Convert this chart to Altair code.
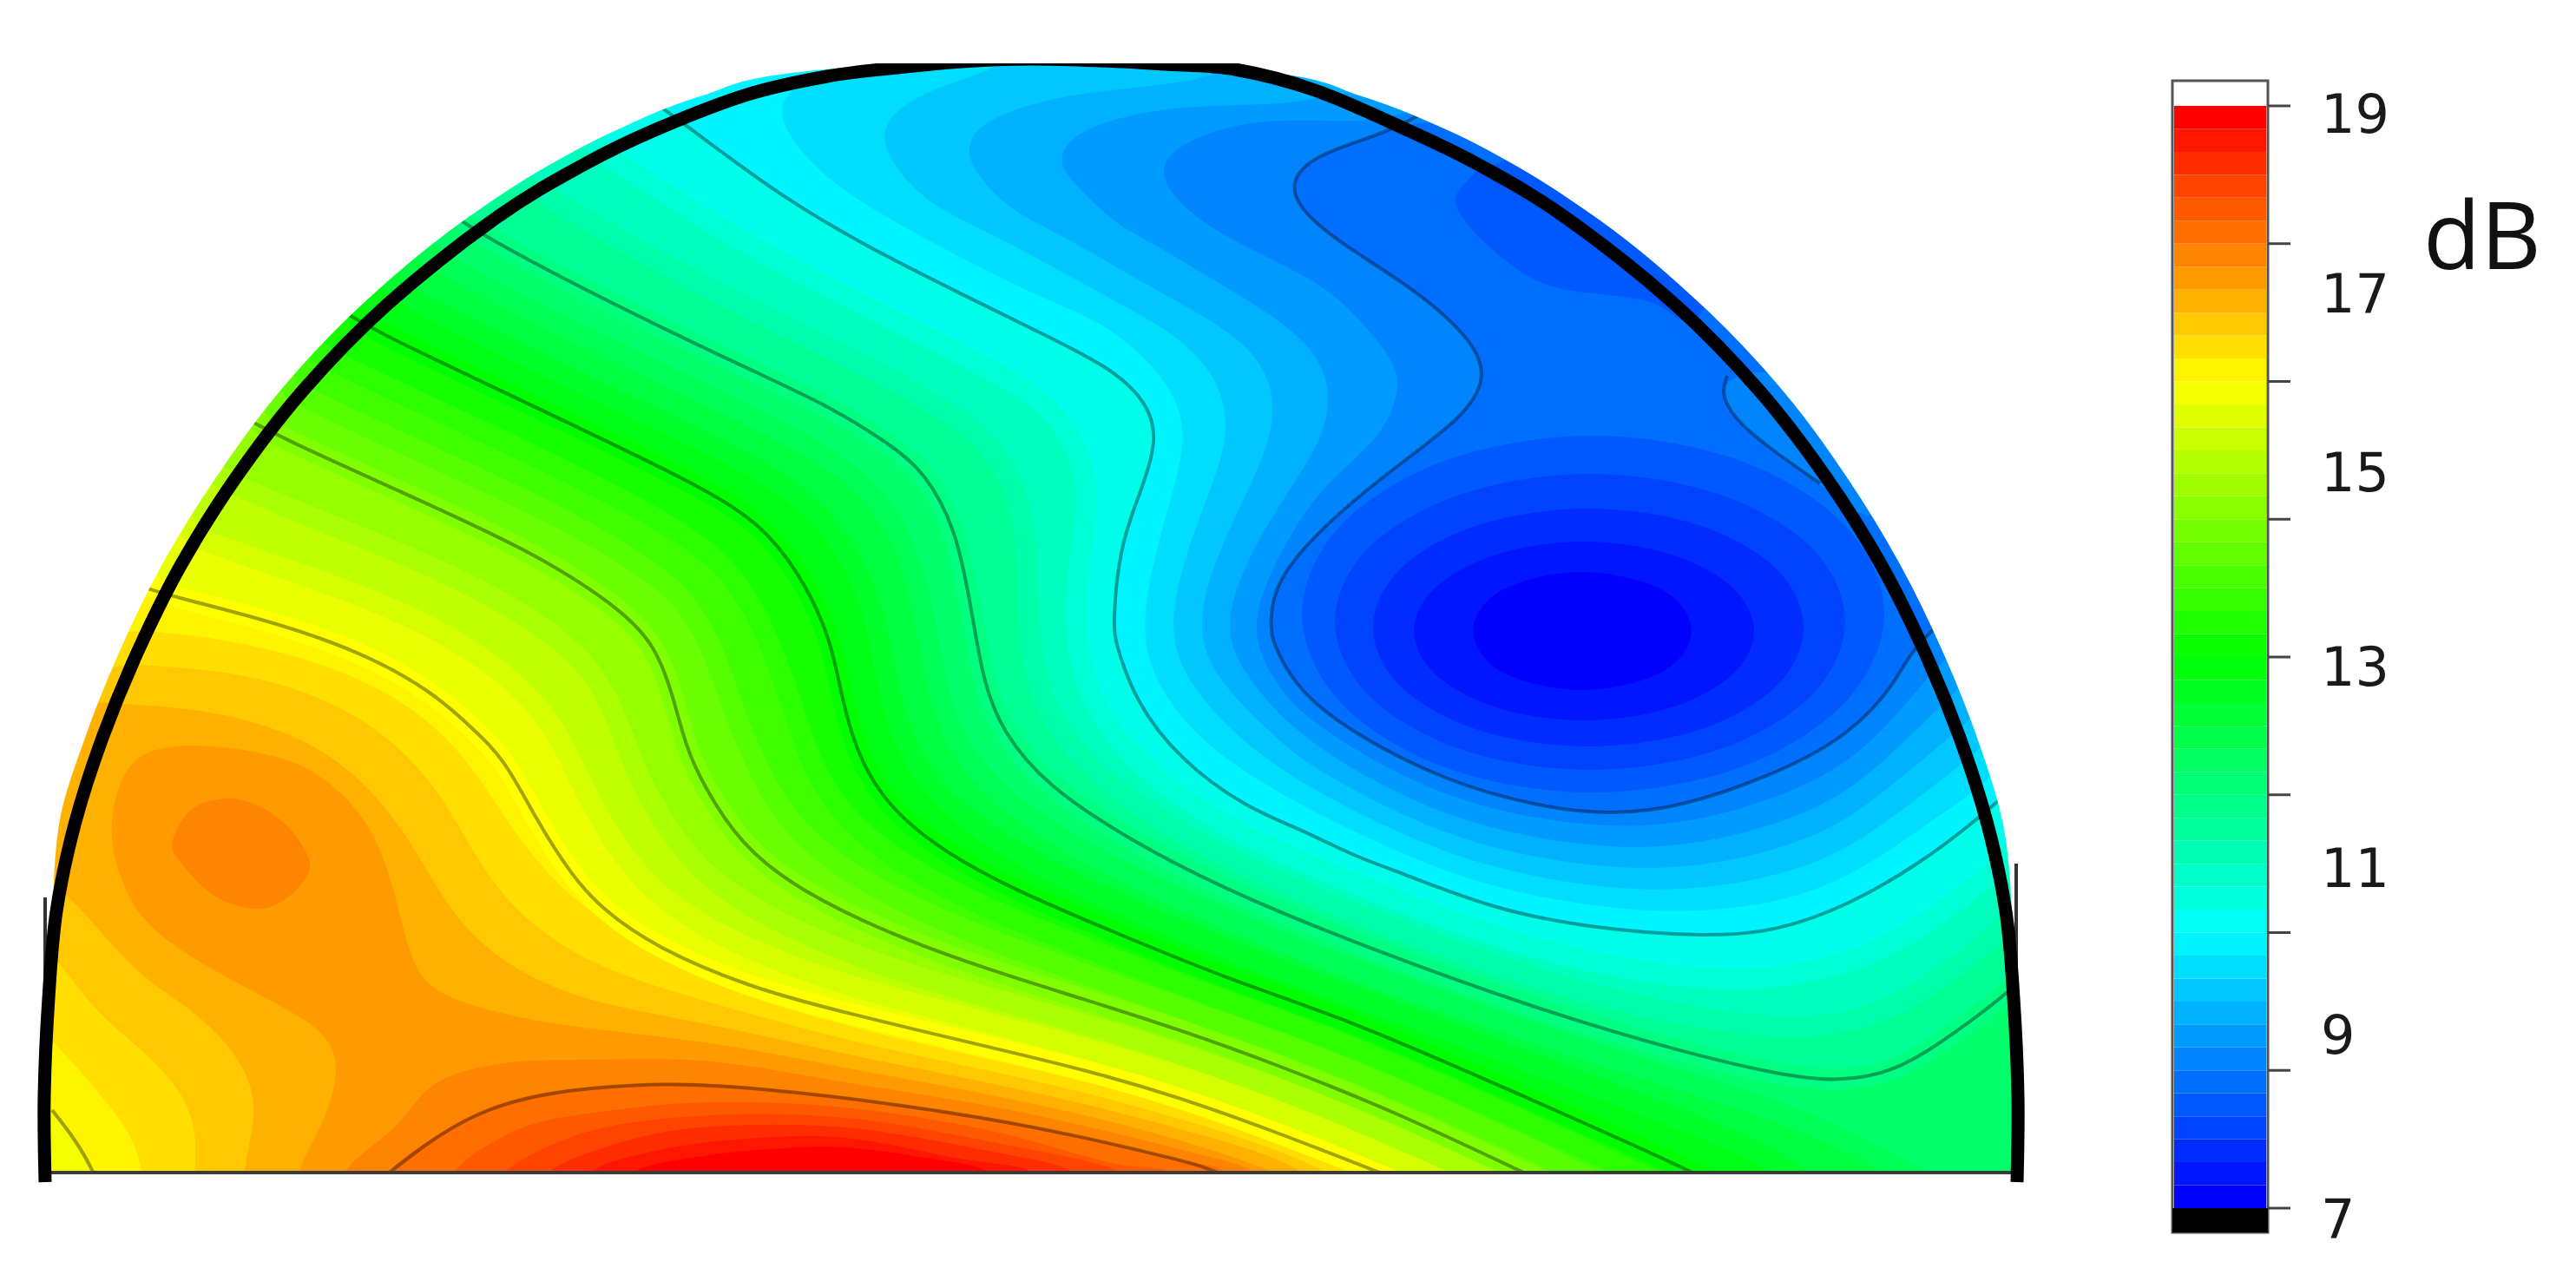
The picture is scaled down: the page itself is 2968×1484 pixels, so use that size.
import altair as alt
import pandas as pd

# ---- contour vertices (reference pixels) ----
L16 = [(150,672),(201,688),(303,713),(415,750),(500,798),(545,840),(581,874),(617,943),(658,1008),(693,1047),(754,1091),(864,1138),(974,1167),(1138,1206),(1248,1232),(1358,1264),(1467,1303),(1590,1351),(1700,1395)]
L155 = [(200,605),(242,627),(354,663),(480,711),(570,765),(615,808),(646,849),(675,915),(709,973),(746,1022),(809,1069),(919,1118),(1029,1150),(1175,1188),(1285,1217),(1394,1251),(1515,1296),(1645,1351),(1750,1395)]
L15 = [(235,540),(282,565),(405,614),(544,672),(641,731),(685,775),(710,825),(732,888),(759,939),(800,998),(864,1047),(974,1098),(1083,1134),(1211,1169),(1321,1201),(1431,1238),(1562,1289),(1700,1351),(1800,1395)]
L145 = [(270,475),(323,504),(456,564),(609,633),(711,698),(755,743),(775,800),(790,860),(810,904),(853,973),(919,1025),(1029,1078),(1138,1117),(1248,1151),(1358,1186),(1467,1225),(1610,1282),(1755,1351),(1850,1395)]
L14 = [(310,435),(360,463),(490,523),(643,593),(745,653),(795,696),(824,754),(843,813),(861,858),(895,931),(950,989),(1044,1043),(1147,1086),(1266,1128),(1376,1167),(1498,1209),(1646,1270),(1822,1351),(1900,1395)]
L135 = [(345,395),(396,423),(524,482),(677,554),(779,609),(836,650),(873,708),(897,767),(912,811),(937,890),(981,953),(1058,1008),(1157,1056),(1285,1105),(1394,1147),(1528,1193),(1683,1259),(1888,1351),(1970,1395)]
L13 = [(380,350),(433,382),(558,441),(711,514),(813,564),(876,603),(922,662),(950,720),(963,765),(979,848),(1012,917),(1073,973),(1166,1025),(1303,1082),(1412,1127),(1559,1177),(1719,1247),(1955,1351),(2035,1395)]
L125 = [(420,310),(476,347),(609,412),(762,485),(862,533),(927,574),(970,623),(1000,682),(1015,743),(1030,828),(1060,892),(1117,950),(1212,1006),(1339,1063),(1461,1113),(1631,1173),(1792,1235),(2010,1316),(2065,1351),(2130,1395)]
L12 = [(470,280),(520,311),(660,382),(813,455),(911,501),(979,544),(1017,583),(1051,645),(1067,722),(1082,807),(1107,868),(1160,927),(1257,988),(1376,1044),(1510,1100),(1702,1168),(1865,1224),(2064,1282),(2180,1340),(2270,1395)]
L115 = [(510,240),(563,276),(711,353),(864,426),(960,470),(1030,515),(1065,544),(1101,607),(1119,700),(1133,787),(1155,843),(1204,904),(1303,969),(1412,1025),(1559,1086),(1774,1164),(1938,1212),(2048,1238),(2119,1247),(2185,1234),(2240,1199),(2311,1147),(2370,1090)]
L11 = [(590,200),(641,234),(775,311),(911,380),(1009,426),(1089,473),(1138,505),(1178,575),(1184,655),(1185,734),(1197,802),(1239,872),(1321,937),(1419,993),(1559,1053),(1756,1125),(1902,1164),(2068,1191),(2167,1170),(2231,1131),(2299,1080),(2357,1027)]
L105 = [(650,150),(720,192),(838,270),(957,333),(1057,382),(1149,430),(1211,465),(1256,542),(1250,610),(1238,681),(1240,761),(1273,840),(1340,906),(1427,962),(1559,1019),(1737,1086),(1865,1117),(2017,1136),(2148,1107),(2221,1063),(2287,1014),(2343,963)]
L10 = [(750,115),(798,150),(902,228),(1004,287),(1106,338),(1208,388),(1284,426),(1325,468),(1333,510),(1315,565),(1290,628),(1282,720),(1286,743),(1308,808),(1358,874),(1434,930),(1500,956),(1559,986),(1610,1004),(1719,1047),(1829,1069),(1966,1080),(2048,1073),(2130,1043),(2212,995),(2275,947),(2340,890)]
L975 = [(1010,50),(930,90),(892,119),(912,165),(963,216),(1055,270),(1190,340),(1270,370),(1330,420),(1376,490),(1340,600),(1312,720),(1330,787),(1385,860),(1500,930),(1610,982),(1719,1025),(1900,1056),(2048,1043),(2130,1010),(2185,975),(2270,915),(2330,870)]
L95 = [(1190,40),(1157,79),(1060,105),(1012,144),(1024,186),(1070,237),(1146,270),(1280,345),(1385,400),(1427,490),(1378,600),(1342,720),(1368,787),(1425,850),(1500,904),(1610,960),(1719,1003),(1900,1033),(2048,1012),(2130,978),(2185,938),(2262,880),(2320,830)]
L925 = [(1420,70),(1386,96),(1233,106),(1147,132),(1111,161),(1121,199),(1167,245),(1223,270),(1340,340),(1455,400),(1478,490),(1418,600),(1372,720),(1405,787),(1460,840),(1500,878),(1610,938),(1719,981),(1900,1009),(2048,982),(2130,945),(2185,900),(2253,845),(2310,790)]
L90 = [(1560,90),(1514,123),(1361,119),(1249,144),(1218,178),(1228,203),(1285,258),(1310,270),(1420,335),(1525,400),(1541,490),(1458,600),(1402,720),(1440,787),(1500,852),(1610,916),(1719,959),(1900,986),(2048,952),(2130,913),(2185,863),(2240,810),(2300,750)]
L875 = [(1640,110),(1600,146),(1453,132),(1356,165),(1335,195),(1351,228),(1402,270),(1514,321),(1555,355),(1610,418),(1612,452),(1593,502),(1533,552),(1494,600),(1432,720),(1470,787),(1500,826),(1610,894),(1719,937),(1900,962),(2048,921),(2130,880),(2185,825),(2225,775),(2290,710)]
L85 = [(1640,130),(1593,155),(1514,178),(1483,212),(1504,249),(1555,287),(1637,338),(1697,393),(1714,435),(1686,481),(1610,536),(1527,603),(1468,670),(1463,720),(1467,743),(1495,795),(1555,843),(1664,900),(1774,930),(1856,939),(1938,930),(2048,891),(2130,848),(2185,787),(2204,743),(2270,690)]
ISLAND = [(1990,433),(1982,456),(2004,489),(2048,523),(2097,557),(2170,620),(2180,520),(2060,420)]
PATCH825 = [(1720,190),(1692,207),(1678,237),(1719,287),(1785,329),(1895,346),(1950,370),(1960,300),(1800,180)]
OVAL825 = [(1835,502),(2003,530),(2125,605),(2171,707),(2125,810),(2003,885),(1835,913),(1667,885),(1545,810),(1500,707),(1545,605),(1667,530)]
OVAL80 = [(1832,546),(1979,569),(2087,631),(2126,716),(2087,801),(1979,864),(1832,887),(1685,864),(1577,801),(1538,716),(1577,631),(1685,569)]
OVAL775 = [(1830,586),(1954,604),(2045,654),(2078,723),(2045,792),(1954,842),(1830,860),(1706,842),(1615,792),(1582,723),(1615,654),(1706,604)]
OVAL75 = [(1825,624),(1923,638),(1995,676),(2021,727),(1995,778),(1923,816),(1825,830),(1727,816),(1655,778),(1629,727),(1655,676),(1727,638)]
OVAL725 = [(1823,659),(1885,668),(1930,690),(1949,727),(1930,764),(1885,786),(1823,795),(1761,786),(1716,764),(1697,727),(1716,690),(1761,668)]
CORNER = [(60,1279),(86,1312),(109,1351),(125,1395),(20,1395),(20,1250)]

# regions at or above a level (orange and red side)
G1625 = [(100,722),(188,728),(275,739),(377,765),(469,808),(535,869),(576,934),(622,999),(683,1056),(760,1099),(820,1136),(974,1183),(1138,1220),(1248,1245),(1358,1276),(1467,1312),(1560,1351),(1650,1395),(165,1395),(165,1351),(153,1308),(112,1256),(61,1199),(20,1160),(50,860)]
G165 = [(110,762),(173,767),(275,774),(377,804),(454,852),(510,917),(545,982),(586,1043),(657,1099),(734,1130),(820,1156),(974,1199),(1138,1233),(1248,1258),(1358,1288),(1467,1322),(1530,1351),(1620,1395),(224,1395),(224,1351),(227,1308),(214,1264),(173,1216),(112,1169),(71,1112),(25,1060),(50,860)]
G1675 = [(85,805),(130,811),(224,815),(326,839),(402,882),(464,952),(504,1026),(545,1082),(606,1125),(683,1156),(820,1180),(974,1215),(1138,1247),(1248,1271),(1358,1300),(1467,1331),(1500,1351),(1590,1395),(280,1395),(280,1351),(290,1308),(295,1264),(275,1216),(224,1164),(173,1134),(122,1082),(91,1043),(40,1000),(45,860)]
G170 = [(122,956),(142,882),(178,860),(239,857),(326,871),(377,895),(438,960),(464,1069),(479,1121),(510,1151),(632,1182),(820,1199),(974,1231),(1138,1260),(1248,1284),(1358,1312),(1475,1351),(1565,1395),(330,1395),(341,1351),(377,1286),(392,1230),(377,1190),(326,1160),(250,1121),(173,1073),(142,1026)]
G1725A = [(199,969),(224,930),(275,921),(326,947),(357,995),(336,1030),(300,1047),(250,1034),(209,995)]
G1725B = [(397,1351),(454,1299),(504,1247),(581,1225),(683,1221),(820,1223),(974,1247),(1138,1274),(1248,1297),(1358,1324),(1445,1351),(1445,1395),(397,1395)]
G175 = [(448,1351),(504,1308),(561,1277),(632,1258),(734,1249),(820,1249),(974,1264),(1138,1288),(1248,1310),(1358,1336),(1412,1351),(1412,1395),(448,1395)]
G1775 = [(522,1351),(600,1300),(700,1280),(820,1270),(974,1276),(1138,1302),(1280,1340),(1347,1351),(1347,1395),(522,1395)]
G180 = [(581,1351),(680,1303),(820,1285),(974,1288),(1138,1315),(1292,1351),(1292,1395),(581,1395)]
G1825 = [(632,1351),(720,1315),(820,1298),(974,1299),(1138,1326),(1237,1351),(1237,1395),(632,1395)]
G185 = [(680,1351),(760,1325),(860,1312),(974,1311),(1100,1334),(1190,1351),(1190,1395),(680,1395)]
G1875 = [(730,1351),(810,1332),(900,1323),(974,1322),(1060,1333),(1140,1351),(1140,1395),(730,1395)]
ARCH175_LINE = [(395,1395),(448,1351),(504,1308),(561,1277),(632,1258),(734,1249),(820,1249),(974,1264),(1138,1288),(1248,1310),(1358,1336),(1412,1351),(1470,1395)]

# points well outside the half disk, bottom right round to the left
RING = [(2360,1390),(2360,1100),(2330,860),(2270,680),(2180,500),(2050,340),(1880,180),(1580,60),(1190,40),(800,60),(500,180),(330,340),(200,500)]

# outline of the half disk: stroke centre and outer edge of the coloured rim
ARC_LEFT = [(52,1362),(51,1262),(56,1150),(65,1050),(86,950),(118,850),(159,750),(209,650),(272,550),(349,450),(447,350),(573,250),(672,190),(754,150),(861,109),(953,88),(1034,78),(1108,71),(1188,68)]
ARC_RIGHT = [(1268,70),(1342,74),(1423,80),(1515,104),(1622,150),(1704,190),(1803,250),(1929,350),(2027,450),(2104,550),(2167,650),(2217,750),(2258,850),(2290,950),(2311,1050),(2320,1150),(2325,1262),(2324,1362)]
RIM_Y  = [1362,1351,1262,1150,1050,950,850,750,650,550,450,350,250,190,150,110,85,73]
RIM_XL = [52,52,51,55,60,68,98,138,187,249,323,418,540,633,710,810,905,1030]
RIM_XR = [2324,2324,2325,2321,2318,2308,2278,2238,2189,2128,2054,1959,1838,1745,1668,1566,1475,1340]

# colour bar
BAR_VALUES = [7.125 + 0.25*i for i in range(48)]
TICK_VALUES = [19, 17.5, 16, 14.5, 13, 11.5, 10, 8.5, 7]
LABELS = ["19", "17", "15", "13", "11", "9", "7"]
LABEL_Y = [134, 341, 547, 771, 1003, 1195, 1407]

COLOR_STOPS = [7.125, 10, 13, 16, 18.875]
COLOR_RANGE = ["#0000ff", "#00ffff", "#00ff00", "#ffff00", "#ff0000"]

xs = alt.Scale(domain=[8, 2960], range=[0, 2952], nice=False, zero=False)
ys = alt.Scale(domain=[8, 1476], range=[0, 1468], nice=False, zero=False)
db = alt.Scale(domain=[7, 19], range=[1384, 114], nice=False, zero=False)
fs = alt.Scale(domain=COLOR_STOPS, range=COLOR_RANGE, interpolate="rgb")
X = alt.X("x:Q", scale=xs, axis=None)
Y = alt.Y("y:Q", scale=ys, axis=None)
X2 = alt.X2("x2:Q")
Y2 = alt.Y2("y2:Q")
F = alt.Fill("v:Q", scale=fs, legend=None)
S = alt.Stroke("s:Q", scale=fs, legend=None)


def region(pts, v, interp="basis-closed"):
    df = pd.DataFrame(pts, columns=["x", "y"])
    df["i"] = range(len(df))
    df["v"] = v
    return alt.Chart(df).mark_line(interpolate=interp, strokeWidth=0, clip=True).encode(
        x=X, y=Y, order=alt.Order("i:Q"), fill=F)


def soft_region(pts, v, edge):
    """A half-dB region whose edge carries the quarter-dB colour between it and the next."""
    df = pd.DataFrame(pts, columns=["x", "y"])
    df["i"] = range(len(df))
    df["v"] = v
    df["s"] = edge
    return alt.Chart(df).mark_line(interpolate="basis-closed", strokeWidth=24, strokeJoin="round", clip=True).encode(
        x=X, y=Y, order=alt.Order("i:Q"), fill=F, stroke=S)


def contour(pts):
    df = pd.DataFrame(pts, columns=["x", "y"])
    df["i"] = range(len(df))
    return alt.Chart(df).mark_line(interpolate="basis", color="#000000", opacity=0.36,
                                   strokeWidth=4).encode(x=X, y=Y, order=alt.Order("i:Q"))


def box(x, x2, y, y2, **kw):
    df = pd.DataFrame({"x": [x], "x2": [x2], "y": [y], "y2": [y2]})
    return alt.Chart(df).mark_rect(**kw).encode(x=X, x2=X2, y=Y, y2=Y2)


layers = []
# base colour
df = pd.DataFrame({"x": [20], "x2": [2400], "y": [40], "y2": [1400], "v": [16.125]})
layers.append(alt.Chart(df).mark_rect().encode(x=X, x2=X2, y=Y, y2=Y2, fill=F))
# upward regions
for pts, v in [(G1625, 16.375), (G165, 16.625), (G1675, 16.875), (G170, 17.125)]:
    layers.append(region(pts, v))
for pts, v in [(G1725A, 17.375), (G1725B, 17.375), (G175, 17.625), (G1775, 17.875),
               (G180, 18.125), (G1825, 18.375), (G185, 18.625), (G1875, 18.875)]:
    layers.append(region(pts, v, "cardinal-closed"))

# downward regions, high to low
for curve, a, b, v, edge in [
    (L16, 0, 13, 15.75, 16), (L155, 0, 13, 15.25, 15.5), (L15, 0, 13, 14.75, 15),
    (L145, 0, 12, 14.25, 14.5), (L14, 0, 12, 13.75, 14), (L135, 0, 12, 13.25, 13.5),
    (L13, 0, 11, 12.75, 13), (L125, 0, 11, 12.25, 12.5), (L12, 0, 11, 11.75, 12),
    (L115, 2, 11, 11.25, 11.5), (L11, 2, 11, 10.75, 11), (L105, 2, 10, 10.25, 10.5),
]:
    if edge == 16:
        layers.append(soft_region(curve + RING[a:b], v, edge))
        layers.append(region(CORNER, 15.875))
    else:
        layers.append(soft_region(curve + RING[a:b], v, edge))
layers.append(region(L10 + RING[3:10], 9.875))
layers.append(region(L975 + RING[3:8], 9.625))
layers.append(region(L95 + RING[3:8], 9.375))
layers.append(region(L925 + RING[3:8], 9.125))
layers.append(region(L90 + RING[3:7], 8.875))
layers.append(region(L875 + RING[3:7], 8.625))
layers.append(region(L85 + RING[4:7], 8.375))
layers.append(region(ISLAND, 8.625))
for pts, v in [(OVAL825, 8.125), (PATCH825, 8.125), (OVAL80, 7.875),
               (OVAL775, 7.625), (OVAL75, 7.375), (OVAL725, 7.125)]:
    layers.append(region(pts, v, "cardinal-closed"))

# contour lines
for pts in [L85, ISLAND[:5], L10, L115, L13, L145, L16, CORNER[:4], ARCH175_LINE]:
    layers.append(contour(pts))

# white round the half disk
left = pd.DataFrame({"y": RIM_Y, "x": RIM_XL, "x2": [8]*len(RIM_Y)})
right = pd.DataFrame({"y": RIM_Y, "x": RIM_XR, "x2": [2490]*len(RIM_Y)})
for d in (left, right):
    layers.append(alt.Chart(d).mark_area(orient="horizontal", interpolate="monotone", color="white").encode(
        x=X, x2=X2, y=Y))
layers.append(box(8, 2490, 1350, 1476, color="white"))

# base line
layers.append(box(52, 2325, 1349, 1353, color="#3a3a3a"))
# thin stubs by the outline
layers.append(box(50, 54, 1034, 1351, color="#333333"))
layers.append(box(2321, 2325, 995, 1120, color="#333333"))

# black outline
arc = pd.DataFrame(ARC_LEFT + ARC_RIGHT, columns=["x", "y"])
arc["i"] = range(len(arc))
layers.append(alt.Chart(arc).mark_line(interpolate="cardinal", color="black", strokeWidth=15).encode(
    x=X, y=Y, order=alt.Order("i:Q")))
layers.append(box(8, 2490, 8, 73, color="white"))

# colour bar
layers.append(box(2503, 2613, 93, 1420, fill="white", stroke="#555555", strokeWidth=3))
bar = pd.DataFrame({"v": BAR_VALUES, "lo": [b - 0.125 for b in BAR_VALUES], "hi": [b + 0.125 for b in BAR_VALUES],
                    "x": [2505]*48, "x2": [2611]*48})
layers.append(alt.Chart(bar).mark_rect().encode(
    x=X, x2=X2, y=alt.Y("lo:Q", scale=db, axis=None), y2=alt.Y2("hi:Q"), fill=F))
layers.append(box(2503, 2613, 1392, 1420, color="black"))
ticks = pd.DataFrame({"v": TICK_VALUES, "x": [2613]*len(TICK_VALUES), "x2": [2639]*len(TICK_VALUES)})
layers.append(alt.Chart(ticks).mark_rule(color="#444444", strokeWidth=3).encode(
    x=X, x2=X2, y=alt.Y("v:Q", scale=db, axis=None)))
lab = pd.DataFrame({"t": LABELS, "x": [2674]*len(LABELS), "y": LABEL_Y})
layers.append(alt.Chart(lab).mark_text(align="left", baseline="middle", font="DejaVu Sans", fontSize=62,
                                       color="#1a1a1a").encode(x=X, y=Y, text="t:N"))
unit = pd.DataFrame({"t": ["dB"], "x": [2792], "y": [278]})
layers.append(alt.Chart(unit).mark_text(align="left", baseline="middle", font="Open Sans", fontSize=108,
                                        color="#111111").encode(x=X, y=Y, text="t:N"))

chart = alt.layer(*layers).resolve_scale(y="independent").properties(
    width=2952, height=1468, padding=0, autosize="none"
).configure_view(stroke=None)

chart.save("out.html", embed_options={"renderer": "svg", "actions": False})
